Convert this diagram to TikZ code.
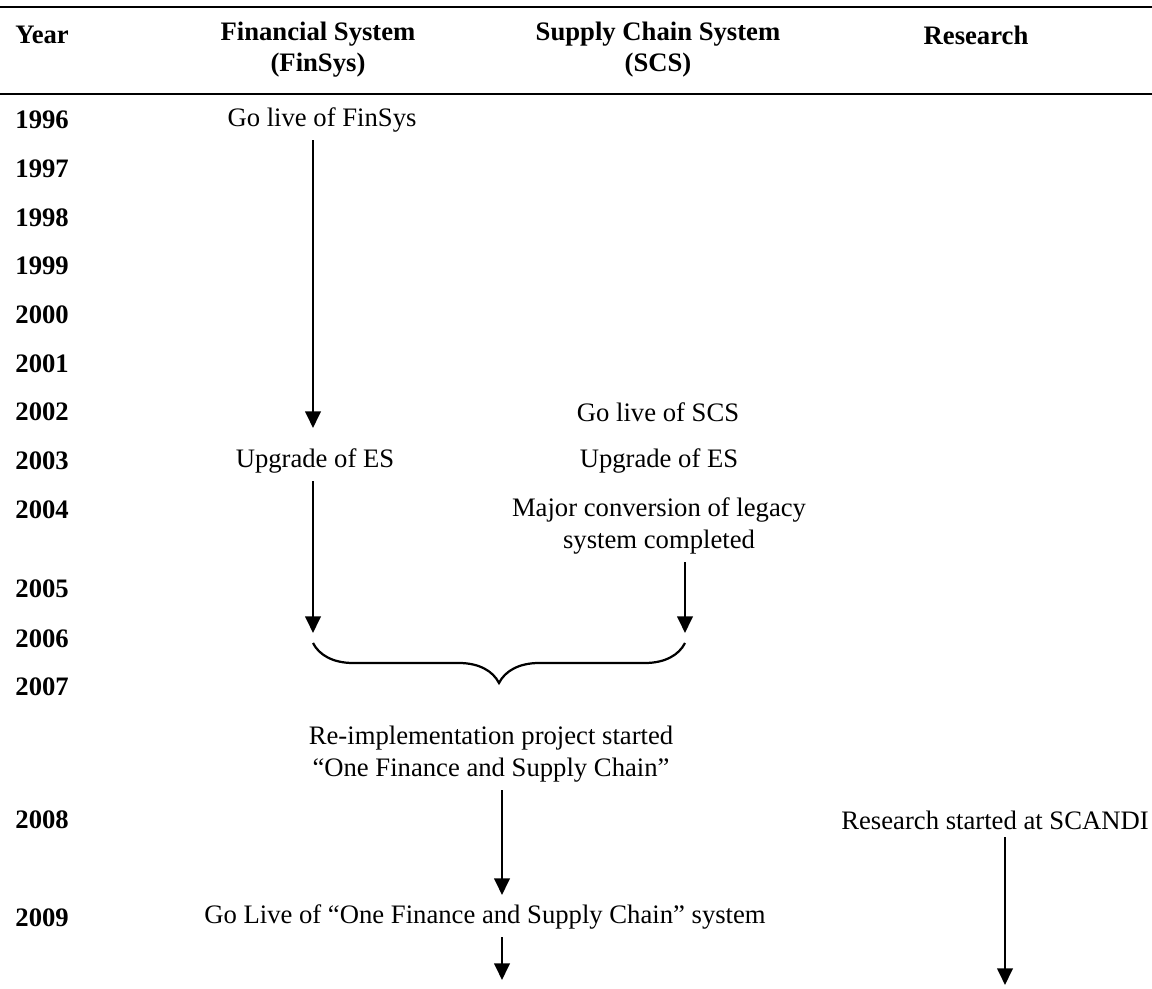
\documentclass[tikz,border=0pt]{standalone}
\usepackage{fontspec}
\setmainfont{Liberation Serif}
\usetikzlibrary{arrows.meta,decorations.pathreplacing}

\begin{document}
\begin{tikzpicture}[x=0.45pt,y=-0.45pt,>={Triangle[width=7pt,length=7.5pt]},
    every node/.style={font=\fontsize{12}{14.5}\selectfont},
    head/.style={font=\fontsize{12}{14}\selectfont\bfseries,align=center},
    year/.style={anchor=west,inner sep=0pt,font=\fontsize{12}{14.5}\selectfont\bfseries},
    event/.style={align=center},
    rule/.style={line width=1.2pt},
    flow/.style={->,line width=1pt}]
    \useasboundingbox (0,0) rectangle (1152,989);
    % table head
    \draw[rule] (0,7) -- (1152,7);
    \draw[rule] (0,94) -- (1152,94);
    \node[year] (Year) at (15,35) {Year};
    \node[head] (FinSys) at (318,50) {Financial System\\(FinSys)};
    \node[head] (SCS) at (658,50) {Supply Chain System\\(SCS)};
    \node[head] (Research) at (976,35) {Research};
    %
    \foreach \yr/\ypos in {1996/120,1997/169,1998/218,1999/266,2000/315,2001/364,
                           2002/412,2003/461,2004/510,2005/589,2006/639,2007/687,
                           2008/820,2009/918}
        \node[year] (y_\yr) at (15,\ypos) {\yr};
    %
    \node[event] (fin_live) at (322,120) {Go live of FinSys};
    \node[event] (scs_live) at (658,412) {Go live of SCS};
    \node[event] (fin_upgrade) at (315,461) {Upgrade of ES};
    \node[event] (scs_upgrade) at (659,461) {Upgrade of ES};
    \node[event] (scs_conversion) at (659,526) {Major conversion of legacy\\system completed};
    \node[event] (reimpl) at (491,754) {Re-implementation project started\\``One Finance and Supply Chain''};
    \node[event] (res_start) at (995,820) {Research started at SCANDI};
    \node[event] (one_live) at (485,917) {Go Live of ``One Finance and Supply Chain'' system};
    %
    \coordinate (fin_2002) at (313,428);
    \coordinate (fin_2006) at (313,633);
    \coordinate (scs_2006) at (685,633);
    \coordinate (brace_left) at (313,643);
    \coordinate (brace_right) at (685,643);
    \coordinate (one_2009) at (502,895);
    \coordinate (one_ground) at (502,980);
    \coordinate (res_ground) at (1005,985);
    %
    \draw[flow] (fin_live.south -| fin_2002) -- (fin_2002);
    \draw[flow] (fin_upgrade.south -| fin_2006) -- (fin_2006);
    \draw[flow] (scs_conversion.south -| scs_2006) -- (scs_2006);
    \draw[line width=1pt,decorate,decoration={brace,mirror,amplitude=18pt}]
        (brace_left) -- (brace_right);
    \draw[flow] (reimpl.south -| one_2009) -- (one_2009);
    \draw[flow] (one_live.south -| one_ground) -- (one_ground);
    \draw[flow] (res_start.south -| res_ground) -- (res_ground);
\end{tikzpicture}
\end{document}
